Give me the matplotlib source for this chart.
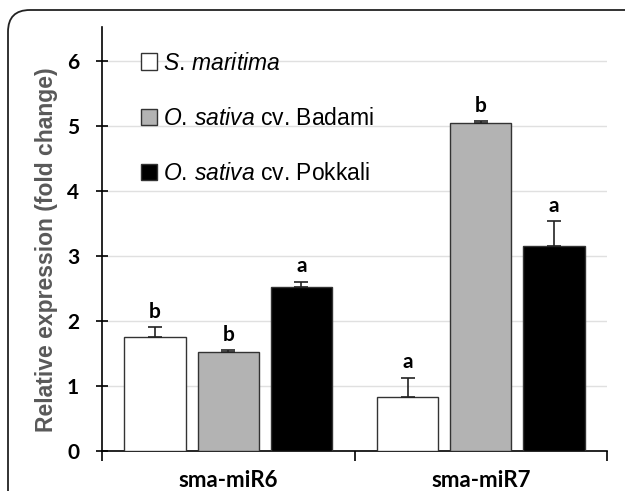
import matplotlib
matplotlib.use("Agg")
import matplotlib.pyplot as plt
from matplotlib.patches import FancyBboxPatch, Patch
import numpy as np

categories = ["sma-miR6", "sma-miR7"]
series_names = ["S. maritima", "O. sativa cv. Badami", "O. sativa cv. Pokkali"]
legend_labels = [r"$\it{S.\,maritima}$", r"$\it{O.\,sativa}$ cv. Badami", r"$\it{O.\,sativa}$ cv. Pokkali"]
values = {
    "S. maritima": [1.76, 0.83],
    "O. sativa cv. Badami": [1.52, 5.04],
    "O. sativa cv. Pokkali": [2.52, 3.16],
}
errors = {
    "S. maritima": [0.14, 0.30],
    "O. sativa cv. Badami": [0.03, 0.03],
    "O. sativa cv. Pokkali": [0.08, 0.37],
}
letters = {
    "S. maritima": ["b", "a"],
    "O. sativa cv. Badami": ["b", "b"],
    "O. sativa cv. Pokkali": ["a", "a"],
}
colors = ["white", "#b3b3b3", "black"]
yticks = [0, 1, 2, 3, 4, 5, 6]

plt.rcParams["mathtext.fontset"] = "custom"
plt.rcParams["mathtext.it"] = "Liberation Sans:italic"
plt.rcParams["mathtext.rm"] = "Liberation Sans"

W, H = 625, 491
fig = plt.figure(figsize=(W / 100, H / 100), dpi=100)

# panel frame with rounded corner
frame = FancyBboxPatch((8 / W, -30 / H), 660 / W, (481 + 30) / H,
                       boxstyle="round,pad=0,rounding_size=0.035",
                       transform=fig.transFigure, fill=False,
                       edgecolor="#222222", linewidth=1.3, mutation_aspect=W / H)
fig.patches.append(frame)

ax = fig.add_axes([102 / W, 40 / H, 505 / W, 424 / H])
x = np.arange(len(categories))
width = 0.242
offsets = [-0.29, 0.0, 0.29]

for i, name in enumerate(series_names):
    xs = x + offsets[i]
    ax.bar(xs, values[name], width, color=colors[i], edgecolor="#333333",
           linewidth=1.0, zorder=3)
    ax.errorbar(xs, values[name], yerr=[np.zeros(len(xs)), errors[name]],
                fmt="none", ecolor="#222222", elinewidth=1.2, capsize=5,
                capthick=1.2, zorder=4)
    for xi, v, e, lt in zip(xs, values[name], errors[name], letters[name]):
        ax.annotate(lt, (xi, v + e), xytext=(0, 4), textcoords="offset points",
                    ha="center", va="bottom", fontsize=15, fontweight="bold",
                    family="Lato", zorder=5)

ax.set_ylim(0, 6.52)
ax.set_xlim(-0.5, 1.5)
ax.set_yticks(yticks)
ax.set_yticklabels([str(t) for t in yticks], fontsize=15, fontweight="bold", family="Lato")
ax.yaxis.grid(True, color="#e0e0e0", linewidth=1.0, zorder=0)
ax.set_axisbelow(True)

ax.set_xticks([-0.5, 0.5, 1.5])
ax.set_xticklabels(["", "", ""])
ax.set_xticks(x, minor=True)
ax.set_xticklabels(categories, minor=True, fontsize=16, fontweight="bold", family="Lato")
ax.tick_params(axis="x", which="minor", length=0, pad=14)
ax.tick_params(axis="x", which="major", direction="out", length=7, width=1.2)
ax.tick_params(axis="y", direction="inout", length=9, width=1.2, pad=12)

for s in ["top", "right"]:
    ax.spines[s].set_visible(False)
ax.spines["left"].set_linewidth(1.2)
ax.spines["bottom"].set_linewidth(1.2)

ax.set_ylabel("Relative expression (fold change)", fontsize=16.5, fontweight="bold",
              color="#595959", family="Liberation Sans")
ax.yaxis.set_label_coords(-0.088, 0.474)

handles = [Patch(facecolor=c, edgecolor="#333333", linewidth=1.0) for c in colors]
leg = ax.legend(handles, legend_labels, loc="upper left", bbox_to_anchor=(0.045, 0.98),
                frameon=False, handlelength=0.7, handleheight=0.7,
                handletextpad=0.25, labelspacing=1.4, borderpad=0.2,
                prop={"family": "Liberation Sans", "size": 16.5})

fig.savefig("out.png", dpi=100)
